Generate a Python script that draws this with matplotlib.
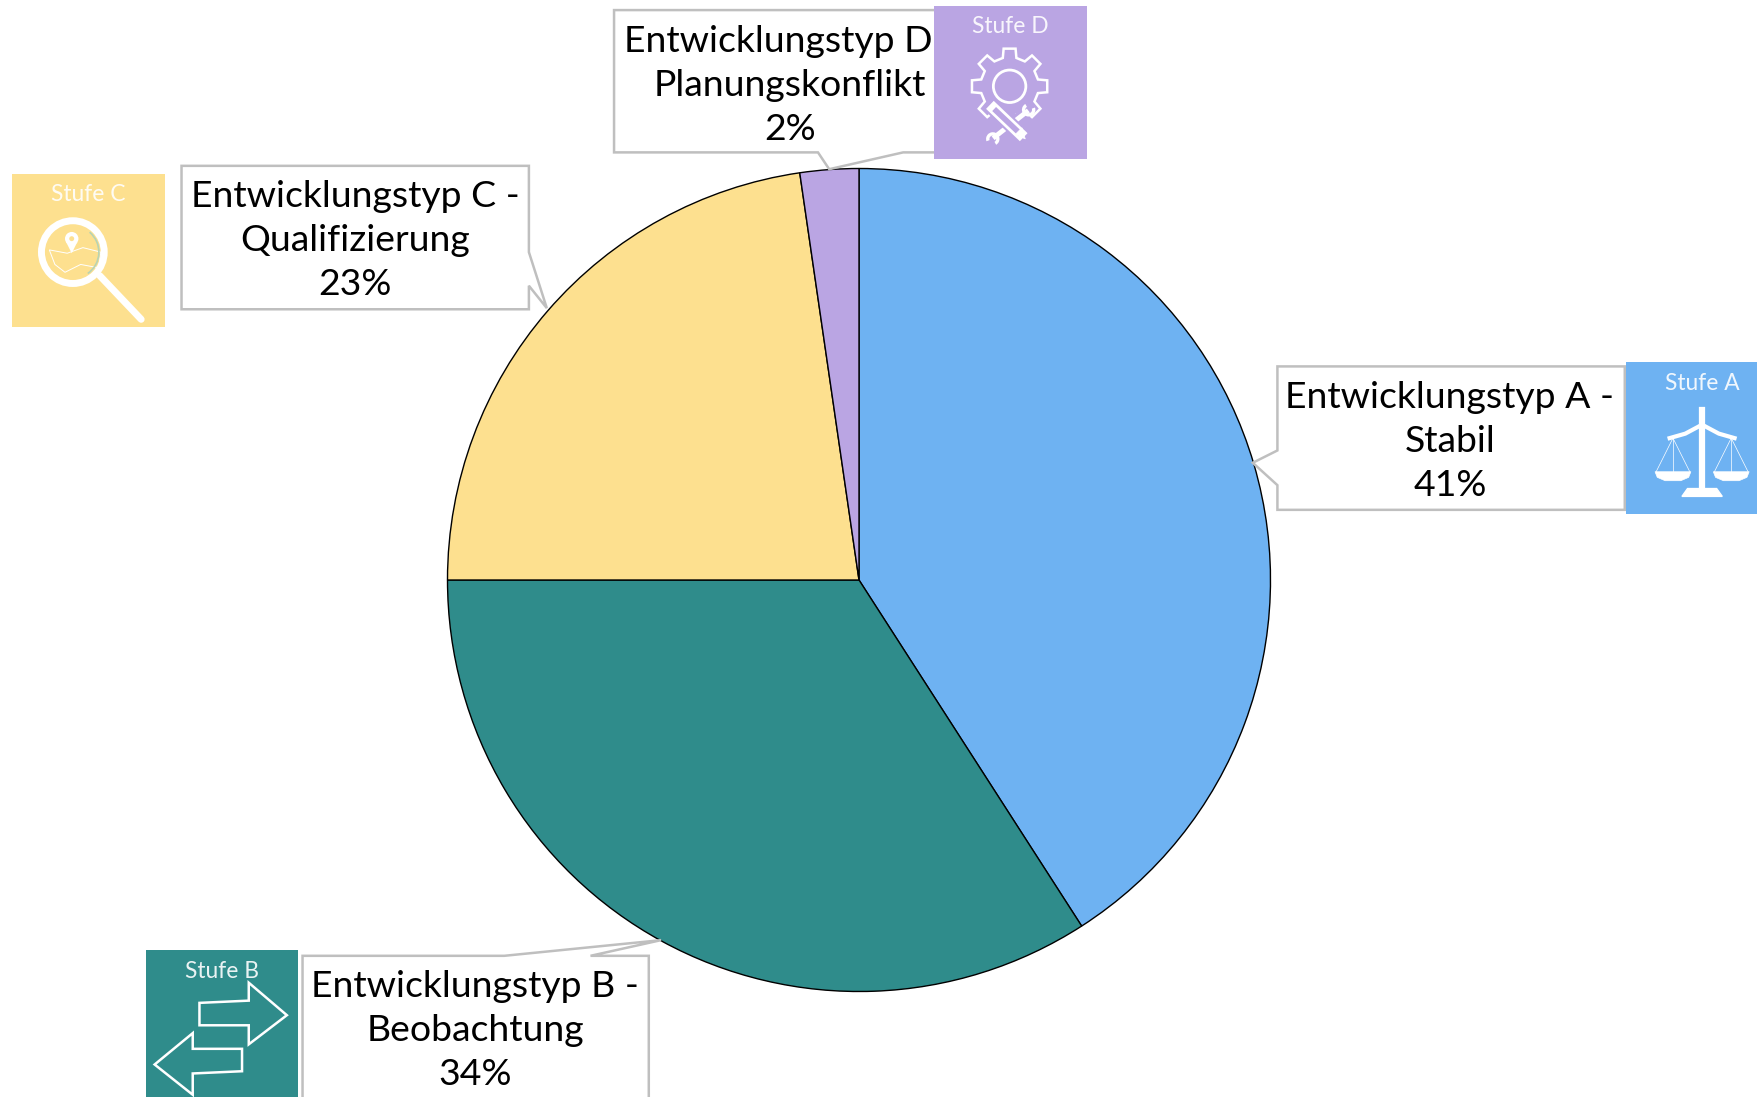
#! usr/bin/env/python

import numpy as np
import matplotlib.pyplot as plt
from matplotlib.patches import Polygon, Rectangle, Circle, Wedge

names = ["Entwicklungstyp A -\nStabil", "Entwicklungstyp B -\nBeobachtung",
         "Entwicklungstyp C -\nQualifizierung", "Entwicklungstyp D -\nPlanungskonflikt"]
shares = [40.9, 34.1, 22.7, 2.3]
stages = ["Stufe A", "Stufe B", "Stufe C", "Stufe D"]
colors = ["#6EB2F2", "#2F8C8B", "#FDE08F", "#BAA5E3"]

plt.rcParams['font.family'] = ['Lato', 'DejaVu Sans']
W, H = 1757, 1097
fig = plt.figure(figsize=(W/100, H/100), dpi=100)

# pie, its axes is exactly the circle box
cx, cy, r = 859, 580, 411.5
ax = fig.add_axes([(cx-r)/W, (H-cy-r)/H, 2*r/W, 2*r/H])
ax.pie(shares, colors=colors, startangle=90, counterclock=False, radius=1,
       wedgeprops={"edgecolor": "black", "linewidth": 1})
ax.set_xlim(-1, 1)
ax.set_ylim(-1, 1)

# everything else is placed in the coordinates of the 1568x979 view
ov = fig.add_axes([0, 0, 1, 1])
ov.set_xlim(0, 1568)
ov.set_ylim(979, 0)
ov.axis("off")
ov.patch.set_alpha(0)

grey = "#BFBFBF"
callouts = [
    [(1140, 327), (1450, 327), (1450, 455), (1140, 455), (1140, 433), (1118, 413), (1140, 402)],
    [(270, 853), (450, 853), (590, 839), (527, 853), (579, 853), (579, 1000), (270, 1000)],
    [(162, 148), (472, 148), (472, 225), (488, 275), (472, 255), (472, 276), (162, 276)],
    [(548, 9), (850, 9), (850, 136), (806, 136), (740, 151), (730, 136), (548, 136)],
]
text_pos = [(1294, 394), (424, 920), (317, 215), (705, 76)]
icons = [(1451, 323, 130, 136), (130, 848, 136, 140), (11, 155, 136, 137), (833.5, 5, 136.5, 137)]

for i in range(4):
    ov.add_patch(Polygon(callouts[i], closed=True, fc="white", ec=grey, lw=1.8, zorder=2))
    txt = names[i] + "\n%.0f%%" % shares[i]
    ov.text(text_pos[i][0], text_pos[i][1], txt, ha="center", va="center", fontsize=26.9,
            color="black", linespacing=1.41, zorder=3)
    x, y, w, h = icons[i]
    ov.add_patch(Rectangle((x, y), w, h, fc=colors[i], ec="none", zorder=4))
    lx = 1519 if i == 0 else x + 68
    ov.text(lx, y + 19, stages[i], ha="center", va="center", fontsize=16.4, color="white",
            alpha=0.9, zorder=5)

c = "white"

# scales
ov.plot([1519, 1519], [366, 440], color=c, lw=4.5, zorder=5)
ov.add_patch(Polygon([(1501, 443), (1506, 436), (1532, 436), (1537, 443)], fc=c, ec=c, zorder=5))
ov.plot([1490, 1504, 1519, 1534, 1548], [391, 387, 379, 387, 391], color=c, lw=3, zorder=5)
for px in [1493, 1545]:
    ov.plot([px-15, px, px+15], [421, 391, 421], color=c, lw=0.5, zorder=5)
    ov.plot([px, px], [391, 421], color=c, lw=0.5, zorder=5)
    ov.add_patch(Polygon([(px-16, 421), (px+16, 421), (px+14, 426), (px+7, 429), (px-7, 429), (px-14, 426)],
                         fc=c, ec=c, lw=0.5, zorder=5))

# arrows
ov.add_patch(Polygon([(178, 895), (222, 893), (222, 877), (256, 906), (222, 932), (222, 915), (178, 915)],
                     fc="none", ec=c, lw=1.8, zorder=5))
ov.add_patch(Polygon([(216, 936), (172, 936), (172, 922), (138, 950), (172, 977), (172, 958), (216, 956)],
                     fc="none", ec=c, lw=1.8, zorder=5))

# magnifier with map
ov.add_patch(Circle((65, 225), 28, fc="none", ec=c, lw=5, zorder=5))
ov.plot([89, 126], [246, 285], color=c, lw=5, solid_capstyle="round", zorder=5)
ov.add_patch(Polygon([(44, 223), (60, 226), (74, 221), (90, 225), (88, 239), (72, 236), (58, 243), (49, 236)],
                     fc="none", ec=c, lw=0.7, zorder=5))
ov.add_patch(Circle((64, 213), 6, fc=c, ec="none", zorder=5))
ov.add_patch(Polygon([(59, 216), (69, 216), (64, 226)], fc=c, ec="none", zorder=5))
ov.add_patch(Circle((64, 213), 2.2, fc=colors[2], ec="none", zorder=6))
ov.add_patch(Wedge((65, 225), 24, -50, 55, width=1.5, fc="#B7D3B4", ec="none", zorder=5))

# gear with tools
teeth = 8
ang, rad = [], []
for t in range(teeth):
    a0 = 2*np.pi*t/teeth - np.pi/2
    step = 2*np.pi/teeth
    ang += [a0-0.30*step, a0-0.20*step, a0+0.20*step, a0+0.30*step]
    rad += [26, 34, 34, 26]
gx = 901 + np.array(rad)*np.cos(ang)
gy = 77 + np.array(rad)*np.sin(ang)
ov.add_patch(Polygon(np.column_stack([gx, gy]), fc="none", ec=c, lw=1.8, zorder=5))
ov.add_patch(Circle((901, 77), 14.5, fc=colors[3], ec=c, lw=2, zorder=5))
# wrench handle, cut out from the gear
ov.plot([916, 888], [100, 122], color=colors[3], lw=8, zorder=6)
ov.plot([916, 888], [100, 122], color=c, lw=3.5, zorder=6)
ov.add_patch(Wedge((918, 98), 6, -20, 240, width=3, fc=c, ec="none", zorder=6))
ov.add_patch(Wedge((886, 124), 6, 160, 60, width=3, fc=c, ec="none", zorder=6))
# pencil over it
ov.plot([887, 910], [97, 119], color=colors[3], lw=11, zorder=7)
ov.plot([887, 910], [97, 119], color=c, lw=8, zorder=7)
ov.plot([889, 909], [99, 118], color=colors[3], lw=4, zorder=8)
ov.add_patch(Polygon([(906, 120), (912, 114), (915, 124)], fc=c, ec=c, lw=0.5, zorder=8))

fig.savefig("out.png", dpi=100)
